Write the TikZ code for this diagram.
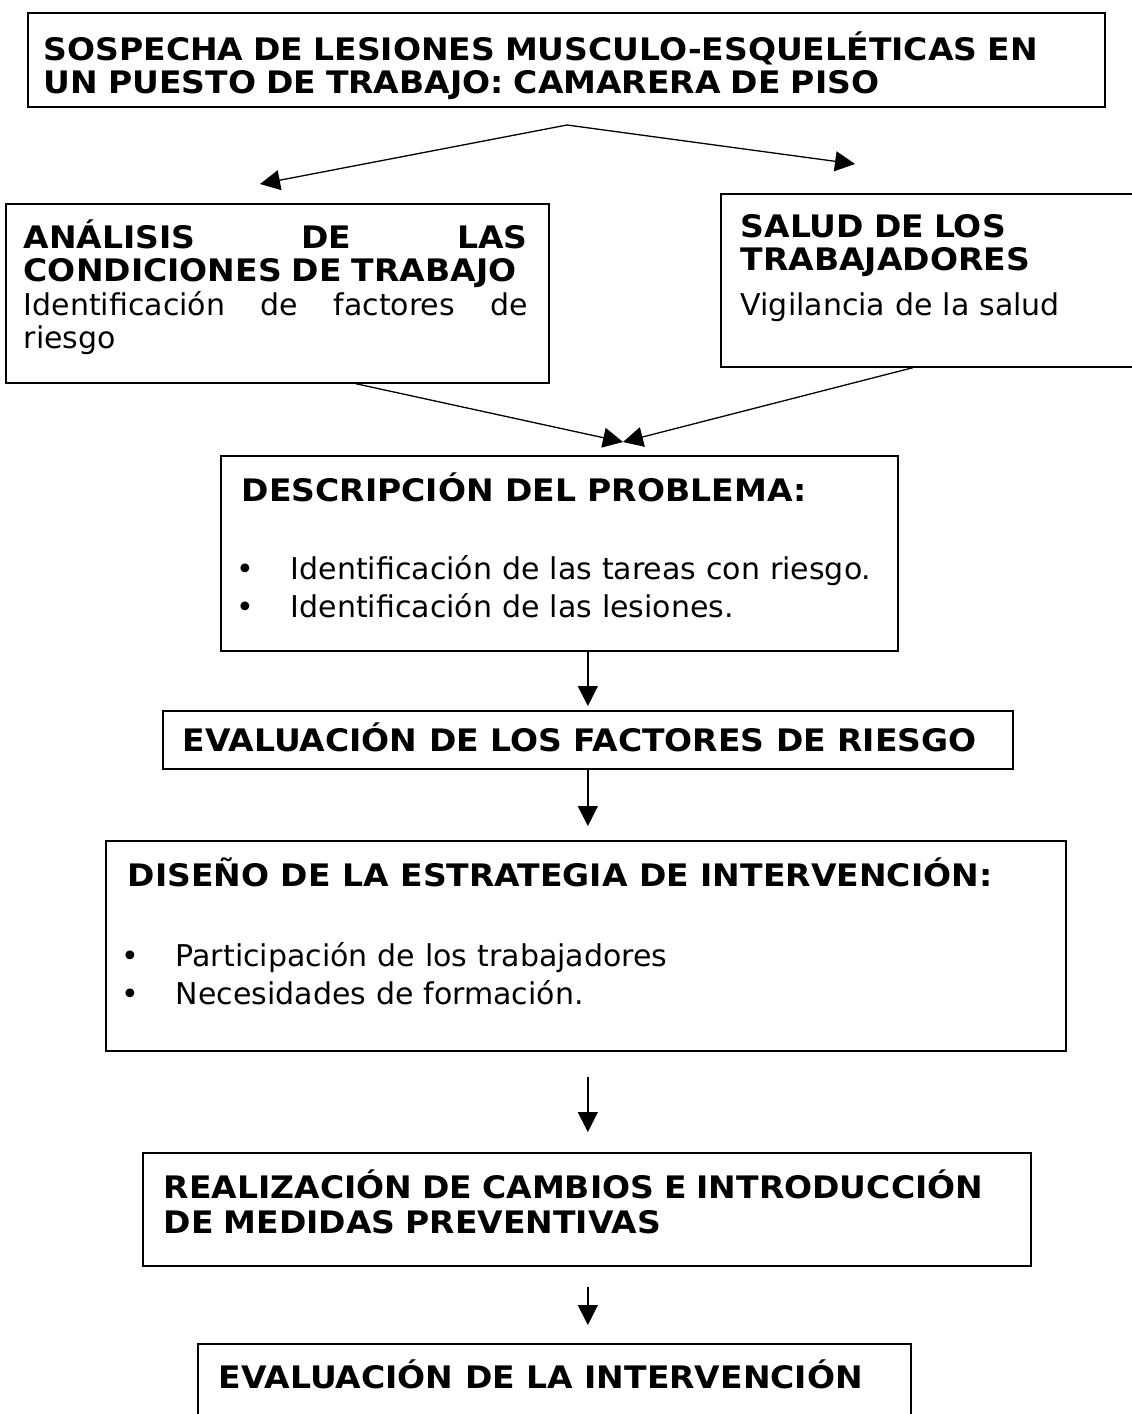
\documentclass[tikz,border=0pt]{standalone}
\usepackage{fontspec}
\setmainfont{DejaVu Sans}[BoldFeatures={FakeStretch=1.065}]
\usetikzlibrary{arrows.meta}

\tikzset{every picture/.style={line width=0.75pt}}
\tikzset{
  frame/.style={draw, line width=0.85pt, anchor=north west, inner sep=0pt},
  boxtext/.style={anchor=base west, inner sep=0pt, align=left, font=\fontsize{15}{16.75}\selectfont},
  flow/.style={-{Triangle[length=10pt,width=10pt]}, line width=0.65pt},
}
\newcommand{\hd}{\fontsize{15.5}{16.75}\selectfont\bfseries}
\newcommand{\bul}{\makebox[27pt][l]{\textbullet}}

\begin{document}
\begin{tikzpicture}[x=0.5pt,y=0.5pt,yscale=-1,xscale=1]
    \useasboundingbox (0,0) rectangle (1131,1414);

    %Frames
    \node [frame, minimum width=538.5pt, minimum height=47pt] (sospecha) at (27,12) {};
    \node [frame, minimum width=271.5pt, minimum height=89.5pt] (analisis) at (5,203) {};
    \node [frame, minimum width=210.5pt, minimum height=86.5pt] (salud) at (720,193) {};
    \node [frame, minimum width=338.5pt, minimum height=97.5pt] (descripcion) at (220,455) {};
    \node [frame, minimum width=425pt, minimum height=29pt] (evaluacion) at (162,710) {};
    \node [frame, minimum width=480pt, minimum height=105pt] (diseno) at (105,840) {};
    \node [frame, minimum width=444pt, minimum height=56.5pt] (realizacion) at (142,1152) {};
    \node [frame, minimum width=356.5pt, minimum height=50pt] (intervencion) at (197,1343) {};

    % Text Node
    \node [boxtext, text width=540pt] (sospechatxt) at (43,60) {\hd SOSPECHA DE LESIONES MUSCULO-ESQUELÉTICAS EN\\UN PUESTO DE TRABAJO: CAMARERA DE PISO};
    % Text Node
    \node [boxtext, text width=252pt] (analisistxt) at (23,248) {{\hd ANÁLISIS\hfill DE\hfill LAS\\CONDICIONES DE TRABAJO}\\Identificación\hfill de\hfill factores\hfill de\\riesgo};
    % Text Node
    \node [boxtext, text width=190pt] (saludtxt) at (740,237) {{\hd SALUD DE LOS\\TRABAJADORES}\\[5.5pt]Vigilancia de la salud};
    % Text Node
    \node [boxtext] (descripciontxt) at (241,501) {\hd DESCRIPCIÓN DEL PROBLEMA:};
    \node [boxtext, text width=320pt, font=\fontsize{15}{19}\selectfont] (descripcionlst) at (236,579) {\bul Identificación de las tareas con riesgo.\\\bul Identificación de las lesiones.};
    % Text Node
    \node [boxtext] (evaluaciontxt) at (182,751) {\hd EVALUACIÓN DE LOS FACTORES DE RIESGO};
    % Text Node
    \node [boxtext] (disenotxt) at (127,886) {\hd DISEÑO DE LA ESTRATEGIA DE INTERVENCIÓN:};
    \node [boxtext, text width=440pt, font=\fontsize{15}{19}\selectfont] (disenolst) at (121,966) {\bul Participación de los trabajadores\\\bul Necesidades de formación.};
    % Text Node
    \node [boxtext, text width=440pt] (realizaciontxt) at (163,1198) {\hd REALIZACIÓN DE CAMBIOS E INTRODUCCIÓN\\[0.75pt]DE MEDIDAS PREVENTIVAS};
    % Text Node
    \node [boxtext] (intervenciontxt) at (218,1388) {\hd EVALUACIÓN DE LA INTERVENCIÓN};

    %Arrows
    \coordinate (split) at (567,125);
    \coordinate (analisistip) at (260,184);
    \coordinate (saludtip) at (855,164);
    \coordinate (descripciontip) at (623,442);
    \draw [flow] (split) -- (analisistip);
    \draw [flow] (split) -- (saludtip);
    \draw [flow] ([xshift=39.25pt]analisis.south) -- (descripciontip);
    \draw [flow] ([xshift=-9.25pt]salud.south) -- (descripciontip);
    \draw [flow] (descripcion.south -| evaluacion.north) -- ([yshift=-2pt]evaluacion.north);
    \draw [flow] (evaluacion.south) -- ([yshift=-7pt]evaluacion.south |- diseno.north);
    \draw [flow] ([yshift=12.5pt]diseno.south -| evaluacion.south) -- ([yshift=-10pt]evaluacion.south |- realizacion.north);
    \draw [flow] ([yshift=10pt]realizacion.south -| evaluacion.south) -- ([yshift=-9pt]evaluacion.south |- intervencion.north);

\end{tikzpicture}
\end{document}
